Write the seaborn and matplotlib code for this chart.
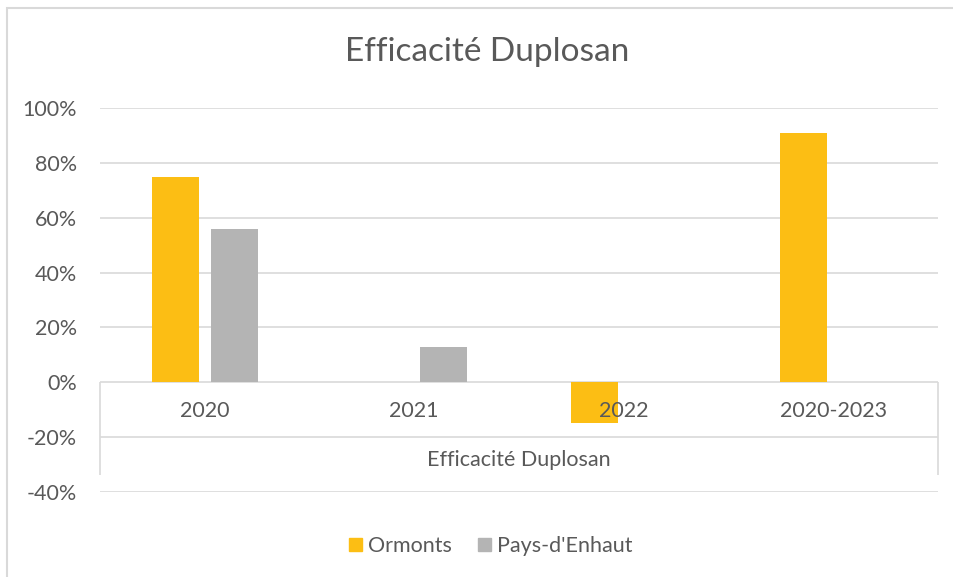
import pandas as pd
import numpy as np
import seaborn as sns
import matplotlib.pyplot as plt
from matplotlib.patches import Rectangle

# data
categories = ['2020', '2021', '2022', '2020-2023']
ormonts = [0.75, np.nan, -0.15, 0.91]
pays_denhaut = [0.56, 0.13, np.nan, np.nan]
series = ['Ormonts', "Pays-d'Enhaut"]
colours = ['#FCBE14', '#B4B4B4']
yticks = [-0.4, -0.2, 0.0, 0.2, 0.4, 0.6, 0.8, 1.0]

df = pd.DataFrame({
    'cat': categories * 2,
    'serie': [series[0]] * 4 + [series[1]] * 4,
    'val': ormonts + pays_denhaut,
})

sns.set_style('white')
plt.rcParams['font.family'] = ['Lato', 'DejaVu Sans']
txt = '#595959'
line = '#D9D9D9'
fs = 15.5

fig = plt.figure(figsize=(9.54, 5.77), dpi=100)
ax = fig.add_axes([100/954, 85/577, 838/954, 384/577])

sns.barplot(data=df, x='cat', y='val', hue='serie', order=categories,
            hue_order=series, palette=colours, width=0.56, gap=0.2,
            linewidth=0, saturation=1, errorbar=None, ax=ax, zorder=3,
            legend=False)

ax.set_xlim(-0.5, len(categories) - 0.5)
ax.set_ylim(-0.4, 1.0)
ax.set_yticks(yticks)
ax.set_yticklabels(['{:.0f}%'.format(v * 100) for v in yticks])
ax.tick_params(axis='y', length=0, pad=16.5, labelsize=fs, labelcolor=txt)
ax.set_xticks([])
ax.set_xlabel('')
ax.set_ylabel('')
for s in ax.spines.values():
    s.set_visible(False)
for v in yticks:
    ax.axhline(v, color=line, lw=1.2, zorder=1)

# multi-level category axis box
ax.vlines([-0.5, len(categories) - 0.5], 0, -0.337, color=line, lw=1.2,
          zorder=1, clip_on=False)
for i, c in enumerate(categories):
    ax.text(i, -0.105, c, ha='center', va='center', fontsize=fs,
            color=txt, zorder=5)
ax.text((len(categories) - 1) / 2, -0.283, 'Efficacité Duplosan',
        ha='center', va='center', fontsize=fs, color=txt, zorder=5)

fig.text(487/954, 1 - 52/577, 'Efficacité Duplosan', ha='center',
         va='center', fontsize=24, color=txt)

handles = [Rectangle((0, 0), 1, 1, color=c) for c in colours]
fig.legend(handles, series, loc='center', bbox_to_anchor=(491/954, 1 - 546/577),
           ncol=2, frameon=False, fontsize=fs, labelcolor=txt,
           handlelength=0.6, handleheight=0.6, handletextpad=0.3,
           columnspacing=1.2)

fig.patches.append(Rectangle((7/954, -0.1), 2, 1.1 - 8/577,
                             transform=fig.transFigure, fill=False,
                             ec=line, lw=1.5))

plt.savefig('out.png', dpi=100)
